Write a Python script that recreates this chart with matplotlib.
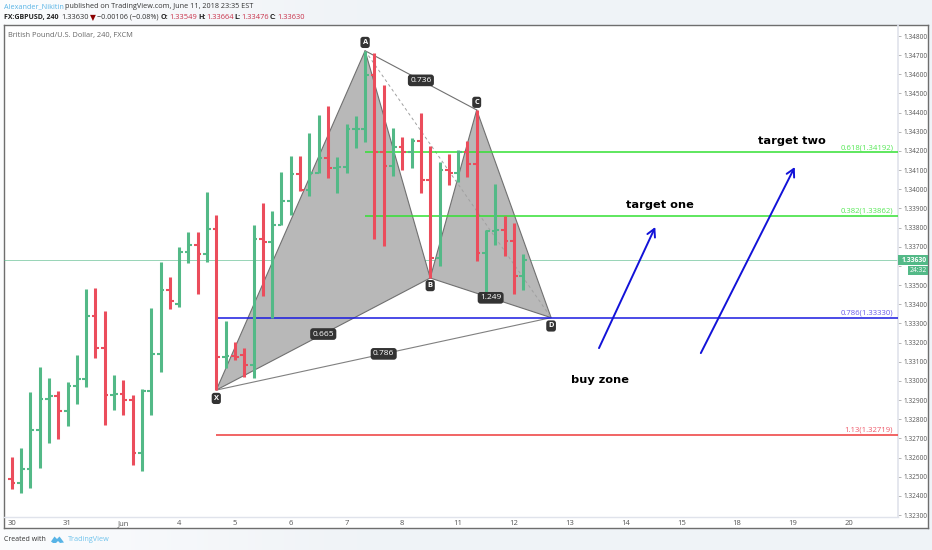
import numpy as np
import matplotlib
matplotlib.use("Agg")
import matplotlib.pyplot as plt
from matplotlib.patches import Polygon, Rectangle

W = 932.0
H = 550.0
plt.rcParams['font.family'] = ['Open Sans', 'DejaVu Sans']

# GBPUSD 4h bars
opens = [1.32488, 1.32467, 1.32538, 1.32743, 1.32904, 1.32921, 1.32841, 1.32973, 1.33010, 1.33338,
         1.33170, 1.32926, 1.32930, 1.32900, 1.32622, 1.32945, 1.33138, 1.33473, 1.33401, 1.33671,
         1.33709, 1.33660, 1.33794, 1.33126, 1.33130, 1.33135, 1.33081, 1.33740, 1.33725, 1.33813,
         1.33939, 1.34080, 1.33996, 1.34086, 1.34162, 1.34109, 1.34118, 1.34313, 1.34313, 1.34596,
         1.34193, 1.34121, 1.34219, 1.34196, 1.34252, 1.34048, 1.33640, 1.34101, 1.34083, 1.34193,
         1.34130, 1.33669, 1.33782, 1.33787, 1.33731, 1.33549]
highs = [1.32604, 1.32648, 1.32943, 1.33074, 1.33016, 1.32947, 1.32995, 1.33133, 1.33478, 1.33486,
         1.33364, 1.33029, 1.33004, 1.32926, 1.32959, 1.33379, 1.33622, 1.33544, 1.33700, 1.33775,
         1.33778, 1.33987, 1.33864, 1.33314, 1.33204, 1.33170, 1.33813, 1.33927, 1.33886, 1.34092,
         1.34175, 1.34174, 1.34295, 1.34388, 1.34435, 1.34170, 1.34339, 1.34384, 1.34723, 1.34713,
         1.34544, 1.34318, 1.34274, 1.34266, 1.34396, 1.34227, 1.34141, 1.34184, 1.34205, 1.34252,
         1.34414, 1.33787, 1.34027, 1.33860, 1.33825, 1.33664]
lows = [1.32434, 1.32413, 1.32442, 1.32543, 1.32674, 1.32695, 1.32766, 1.32881, 1.32969, 1.33118,
        1.32771, 1.32846, 1.32822, 1.32561, 1.32528, 1.32822, 1.33048, 1.33373, 1.33387, 1.33613,
        1.33453, 1.33622, 1.32952, 1.33065, 1.33109, 1.33022, 1.33013, 1.33443, 1.33326, 1.33812,
        1.33866, 1.33991, 1.33965, 1.34083, 1.34060, 1.33982, 1.34083, 1.34214, 1.34248, 1.33739,
        1.33704, 1.34069, 1.34101, 1.34109, 1.33979, 1.33537, 1.33601, 1.34022, 1.34039, 1.34062,
        1.33627, 1.33439, 1.33709, 1.33653, 1.33453, 1.33476]
closes = [1.32467, 1.32538, 1.32743, 1.32904, 1.32921, 1.32841, 1.32973, 1.33010, 1.33338, 1.33170,
          1.32926, 1.32930, 1.32900, 1.32622, 1.32945, 1.33138, 1.33473, 1.33418, 1.33671, 1.33709,
          1.33660, 1.33794, 1.33126, 1.33130, 1.33125, 1.33081, 1.33740, 1.33725, 1.33813, 1.33939,
          1.34080, 1.33996, 1.34086, 1.34162, 1.34109, 1.34118, 1.34313, 1.34313, 1.34596, 1.34193,
          1.34121, 1.34219, 1.34196, 1.34252, 1.34048, 1.33640, 1.34101, 1.34083, 1.34193, 1.34130,
          1.33669, 1.33782, 1.33787, 1.33731, 1.33549, 1.33630]

# harmonic pattern pivots
pattern_names = ["X", "A", "B", "C", "D"]
pattern_bars = [22, 38, 45, 50, 58]
pattern_prices = [1.32952, 1.34723, 1.33537, 1.34414, 1.33330]

# fib levels: name, price, first bar
level_names = ["0.618(1.34192)", "0.382(1.33862)", "0.786(1.33330)", "1.13(1.32719)"]
level_prices = [1.34192, 1.33862, 1.33330, 1.32719]
level_starts = [38, 38, 22, 22]
level_colors = ["#33e033", "#33e033", "#1a1ae0", "#ee3a3a"]
level_text_colors = ["#55e855", "#55e855", "#6a5ae8", "#ee5a6a"]

price_ticks = [1.323, 1.324, 1.325, 1.326, 1.327, 1.328, 1.329, 1.330, 1.331, 1.332, 1.333, 1.334, 1.335,
               1.336, 1.337, 1.338, 1.339, 1.340, 1.341, 1.342, 1.343, 1.344, 1.345, 1.346, 1.347, 1.348]
date_bars = [0, 6, 12, 18, 24, 30, 36, 42, 48, 54, 60, 66, 72, 78, 84, 90]
date_labels = ["30", "31", "Jun", "4", "5", "6", "7", "8", "11", "12", "13", "14", "15", "18", "19", "20"]

arrow_starts = [(63.15, 1.33171), (74.1, 1.33145)]
arrow_ends = [(69.2, 1.33803), (84.2, 1.34116)]
notes = ["target two", "target one", "buy zone"]
note_bars = [80.3, 66.1, 60.1]
note_prices = [1.34252, 1.33917, 1.33005]

last_price = 1.33630
RED = "#eb4d5c"
GREEN = "#53b987"


def px_text(x, y, s, **kw):
    return fig.text(x / W, 1 - y / H, s, va="center", **kw)


fig = plt.figure(figsize=(W / 100, H / 100), dpi=100, facecolor="#f0f3f7")

# page background fades to white on the left
bg = fig.add_axes([0, 0, 1, 1])
bg.axis("off")
shade = np.clip(np.linspace(0, 2.6, 256), 0, 1)
left_col = np.array([0.985, 0.99, 0.995])
right_col = np.array([0.941, 0.953, 0.969])
bg.imshow((left_col + shade[:, None] * (right_col - left_col))[None, :, :], aspect="auto")

# outer frame
frame = fig.add_axes([3.7 / W, 1 - 528 / H, (928 - 3.7) / W, (528 - 25) / H])
frame.set_xticks([])
frame.set_yticks([])
for s in frame.spines.values():
    s.set_color("#6e6e6e")
    s.set_linewidth(1.0)

ax = fig.add_axes([4 / W, 1 - 517 / H, (898 - 4) / W, (517 - 25) / H])
ax.patch.set_alpha(0)
ax.set_xlim((4 - 11.7) / 9.3, (898 - 11.7) / 9.3)
ax.set_ylim(1.348 - (517 - 36) / 19160, 1.348 - (25 - 36) / 19160)

ax.axhline(last_price, color=GREEN, lw=0.6, alpha=0.7, zorder=1)

# pattern
xs = pattern_bars
ys = pattern_prices
ax.add_patch(Polygon([(xs[0], ys[0]), (xs[1], ys[1]), (xs[2], ys[2])], fc="#b8b8b8", ec="#707070", lw=0.8, zorder=2))
ax.add_patch(Polygon([(xs[2], ys[2]), (xs[3], ys[3]), (xs[4], ys[4])], fc="#b8b8b8", ec="#707070", lw=0.8, zorder=2))
ax.plot([xs[1], xs[3]], [ys[1], ys[3]], color="#707070", lw=0.8, zorder=2)
ax.plot([xs[0], xs[4]], [ys[0], ys[4]], color="#808080", lw=0.8, zorder=2)
ax.plot([xs[1], xs[4]], [ys[1], ys[4]], color="#a0a0a0", lw=0.7, ls=(0, (3, 3)), zorder=2)

# fib levels
for name, price, start, c, tc in zip(level_names, level_prices, level_starts, level_colors, level_text_colors):
    ax.hlines(price, start, ax.get_xlim()[1], color=c, lw=1.1, zorder=3)
    ax.annotate(name, (1, price), xycoords=("axes fraction", "data"), xytext=(-3.5, 1), textcoords="offset points",
                ha="right", va="bottom", color=tc, fontsize=5.6, zorder=6)

# bars
for i in range(len(opens)):
    c = GREEN if closes[i] >= opens[i] else RED
    ax.vlines(i, lows[i], highs[i], color=c, lw=2.2, zorder=4)
    ax.hlines(opens[i], i - 0.4, i, color=c, lw=1.5, zorder=4)
    ax.hlines(closes[i], i, i + 0.4, color=c, lw=1.5, zorder=4)

# pivot tags
tag_box = dict(boxstyle="round,pad=0.28,rounding_size=0.35", fc="#333333", ec="none")
tag_offsets = [-6, 6, -5.5, 5.5, -6]
for name, bx, py, off in zip(pattern_names, xs, ys, tag_offsets):
    ax.annotate(name, (bx, py), xytext=(0, off), textcoords="offset points", ha="center", va="center",
                color="white", fontsize=5.4, fontweight="bold", bbox=tag_box, zorder=7)

# ratio tags on the legs
ratio_names = ["0.736", "0.665", "0.786", "1.249"]
ratio_legs = [(1, 3), (0, 2), (0, 4), (2, 4)]
for name, (a, b) in zip(ratio_names, ratio_legs):
    ax.text((xs[a] + xs[b]) / 2, (ys[a] + ys[b]) / 2, name, ha="center", va="center", color="white", fontsize=6.0,
            bbox=tag_box, zorder=7)

# arrows
for st, en in zip(arrow_starts, arrow_ends):
    ax.annotate("", xy=en, xytext=st, arrowprops=dict(arrowstyle="->,head_length=0.55,head_width=0.3", color="#1212d8",
                                                      lw=1.4, shrinkA=0, shrinkB=0), zorder=6)

for s, bx, py in zip(notes, note_bars, note_prices):
    ax.text(bx, py, s, ha="left", va="center", color="black", fontsize=8.2, fontweight="bold",
            family="DejaVu Sans", zorder=6)

# axes
for s in ax.spines.values():
    s.set_visible(False)
ax.spines["right"].set_visible(True)
ax.spines["bottom"].set_visible(True)
ax.spines["right"].set_color("#e0e3eb")
ax.spines["bottom"].set_color("#e0e3eb")
ax.spines["right"].set_linewidth(1.2)
ax.spines["bottom"].set_linewidth(1.0)
ax.yaxis.tick_right()
ax.set_yticks(price_ticks)
# 1.33600 sits behind the countdown box in the reference
ax.set_yticklabels(["" if abs(p - 1.336) < 1e-6 else "%.5f" % p for p in price_ticks])
ax.tick_params(axis="y", length=2, width=0.5, color="#999999", labelsize=4.7, labelcolor="#555555", pad=2)
ax.set_xticks(date_bars)
ax.set_xticklabels(date_labels)
ax.tick_params(axis="x", length=0, labelsize=5.5, labelcolor="#555555", pad=2.5)

# last price label and countdown
fig.add_artist(Rectangle((898 / W, 1 - 265.5 / H), 30 / W, 10 / H, transform=fig.transFigure, fc=GREEN, ec="none", zorder=8))
fig.add_artist(Rectangle((908 / W, 1 - 275 / H), 20 / W, 9 / H, transform=fig.transFigure, fc=GREEN, ec="none", zorder=8))
px_text(914.5, 260.5, "%.5f" % last_price, color="white", fontsize=4.9, ha="center", fontweight="bold", zorder=9)
px_text(918, 271, "24:32", color="white", fontsize=4.9, ha="center", zorder=9)

# header
px_text(3.5, 7, "Alexander_Nikitin", color="#58b4e6", fontsize=5.2)
px_text(65, 7, "published on TradingView.com, June 11, 2018 23:35 EST", color="#333333", fontsize=5.2)
px_text(3.5, 17.5, "FX:GBPUSD, 240", color="#222222", fontsize=5.0, fontweight="bold")
px_text(61, 17.5, "1.33630", color="#333333", fontsize=5.4)
px_text(92.5, 17.5, "\u25bc", color="#8b0000", fontsize=5.5, ha="center", family="DejaVu Sans")
px_text(97, 17.5, "\u22120.00106 (\u22120.08%)", color="#333333", fontsize=5.2)
for x, s in zip([161, 198, 234.5, 270], ["O:", "H:", "L:", "C:"]):
    px_text(x, 17.5, s, color="#222222", fontsize=5.2, fontweight="bold")
for x, s in zip([169, 206, 241, 277], ["1.33549", "1.33664", "1.33476", "1.33630"]):
    px_text(x, 17.5, s, color="#c8324a", fontsize=5.4)
px_text(8.5, 35, "British Pound/U.S. Dollar, 240, FXCM", color="#666666", fontsize=5.35)

# footer
px_text(3.5, 539.5, "Created with", color="#333333", fontsize=5.0)
px_text(68, 539.5, "TradingView", color="#6fc3ec", fontsize=5.2)
fig.add_artist(Polygon([(51 / W, 1 - 541.5 / H), (54.5 / W, 1 - 536.5 / H), (57 / W, 1 - 539 / H), (59.5 / W, 1 - 536.5 / H),
                        (64 / W, 1 - 542.5 / H), (60 / W, 1 - 543 / H), (58 / W, 1 - 541 / H), (56 / W, 1 - 543 / H),
                        (53 / W, 1 - 543 / H)], transform=fig.transFigure, fc="#58b4e6", ec="none"))

fig.savefig("out.png", dpi=100)
